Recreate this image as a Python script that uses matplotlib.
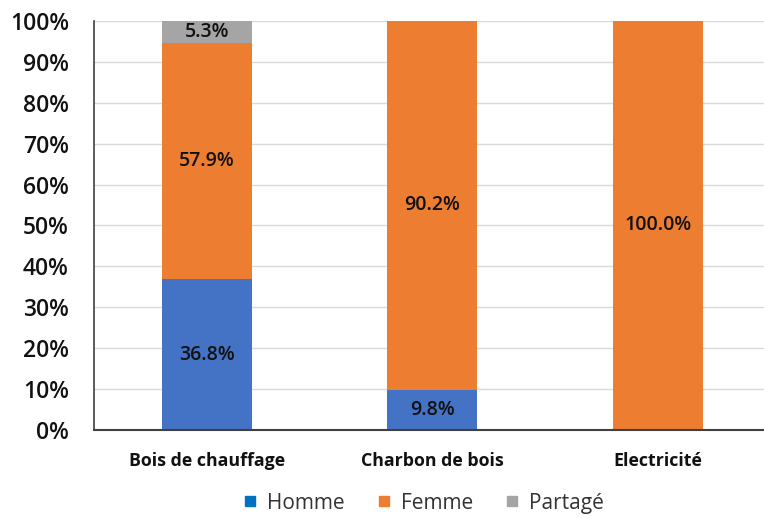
import matplotlib

matplotlib.use("Agg")

import matplotlib.pyplot as plt
import numpy as np
from matplotlib.lines import Line2D

categories = ["Bois de chauffage", "Charbon de bois", "Electricité"]
homme = [36.8, 9.8, 0.0]
femme = [57.9, 90.2, 100.0]
partage = [5.3, 0.0, 0.0]
series_names = ["Homme", "Femme", "Partagé"]

bar_colors = ["#4472C4", "#ED7D31", "#A5A5A5"]
legend_colors = ["#0070C0", "#ED7D31", "#A5A5A5"]

plt.rcParams["font.family"] = ["Open Sans", "DejaVu Sans"]

fig = plt.figure(figsize=(7.64, 5.18), dpi=100)
ax = fig.add_axes([0.123, 0.170, 0.877, 0.7895])

x = np.arange(len(categories))
width = 0.4
bottom = np.zeros(len(categories))
for values, color in zip([homme, femme, partage], bar_colors):
    vals = np.array(values)
    ax.bar(x, vals, width, bottom=bottom, color=color, zorder=2)
    for xi, b, v in zip(x, bottom, vals):
        if v > 0:
            ax.text(xi, b + v / 2, f"{v:.1f}%", ha="center", va="center",
                    fontsize=14, fontweight="semibold", color="#111111", zorder=3)
    bottom += vals

ax.set_xlim(-0.5, 2.47)
ax.set_ylim(0, 100)
ax.set_yticks(np.arange(0, 101, 10))
ax.set_yticklabels([f"{v}%" for v in range(0, 101, 10)], fontsize=16.5,
                   fontweight="semibold", color="#111111")
ax.set_xticks(x)
ax.set_xticklabels(categories, fontsize=12.8, fontweight="bold", color="#111111")
ax.tick_params(axis="y", length=0, pad=18)
ax.tick_params(axis="x", length=0, pad=16)

ax.grid(axis="y", color="#D9D9D9", linewidth=1, zorder=0)
for side in ["top", "right"]:
    ax.spines[side].set_visible(False)
ax.spines["left"].set_color("#404040")
ax.spines["bottom"].set_color("#404040")
ax.spines["left"].set_linewidth(1.2)
ax.spines["bottom"].set_linewidth(1.5)

handles = [Line2D([], [], marker="s", linestyle="", markersize=7, color=c)
           for c in legend_colors]
fig.legend(handles, series_names, loc="lower center", bbox_to_anchor=(0.552, -0.028),
           ncol=3, frameon=False, fontsize=15, handletextpad=0.3, handlelength=1.0,
           columnspacing=1.4, labelcolor="#333333")

fig.savefig("out.png", dpi=100)
